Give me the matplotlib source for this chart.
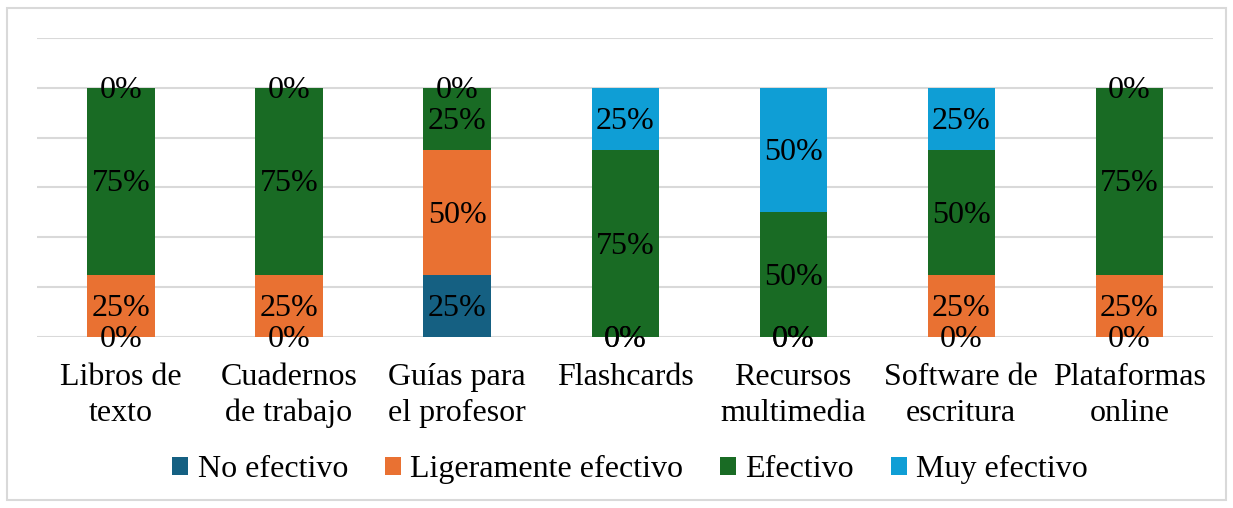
import matplotlib.pyplot as plt
from matplotlib.patches import Rectangle
import numpy as np

categorias = ["Libros de\ntexto", "Cuadernos\nde trabajo", "Guías para\nel profesor",
              "Flashcards", "Recursos\nmultimedia", "Software de\nescritura",
              "Plataformas\nonline"]
series = ["No efectivo", "Ligeramente efectivo", "Efectivo", "Muy efectivo"]
no_efectivo = [0.0, 0.0, 0.25, 0.0, 0.0, 0.0, 0.0]
ligeramente = [0.25, 0.25, 0.50, 0.0, 0.0, 0.25, 0.25]
efectivo = [0.75, 0.75, 0.25, 0.75, 0.50, 0.50, 0.75]
muy_efectivo = [0.0, 0.0, 0.0, 0.25, 0.50, 0.25, 0.0]
colores = ["#156082", "#E97132", "#196B24", "#0F9ED5"]

plt.rcParams['font.family'] = ['Liberation Serif', 'DejaVu Serif']

fig = plt.figure(figsize=(12.33, 5.08), dpi=100)
ax = fig.add_axes([0.030, 0.3366, 0.954, 0.589])

x = np.arange(len(categorias))
base = np.zeros(len(categorias))
for nombre, valores, color in zip(series, [no_efectivo, ligeramente, efectivo, muy_efectivo], colores):
    bars = ax.bar(x, valores, width=0.4, bottom=base, color=color, label=nombre, zorder=3)
    ax.bar_label(bars, labels=[f"{v*100:.0f}%" for v in valores], label_type='center',
                 fontsize=23, color='black', zorder=4, padding=-2)
    base += np.array(valores)

ax.set_xlim(-0.5, len(categorias) - 0.5)
ax.set_ylim(0, 1.2)
ax.set_yticks(np.arange(0, 1.21, 0.2))
ax.set_yticklabels([])
ax.tick_params(axis='y', length=0)
ax.tick_params(axis='x', length=0, pad=19, labelsize=23)
ax.set_xticks(x)
ax.set_xticklabels(categorias, linespacing=1.28)
ax.grid(axis='y', color='#D9D9D9', linewidth=1.5, zorder=0)
for s in ax.spines.values():
    s.set_visible(False)

leg = fig.legend(loc='center', bbox_to_anchor=(0.511, 0.075), ncol=4, frameon=False,
                 fontsize=23, handlelength=0.5, handleheight=0.5, handletextpad=0.3,
                 columnspacing=1.15)

fig.patches.append(Rectangle((7 / 1233, 8 / 508), 1219 / 1233, 492 / 508,
                             transform=fig.transFigure, fill=False,
                             edgecolor='#D9D9D9', linewidth=1.5))

fig.savefig("out.png", dpi=100)
